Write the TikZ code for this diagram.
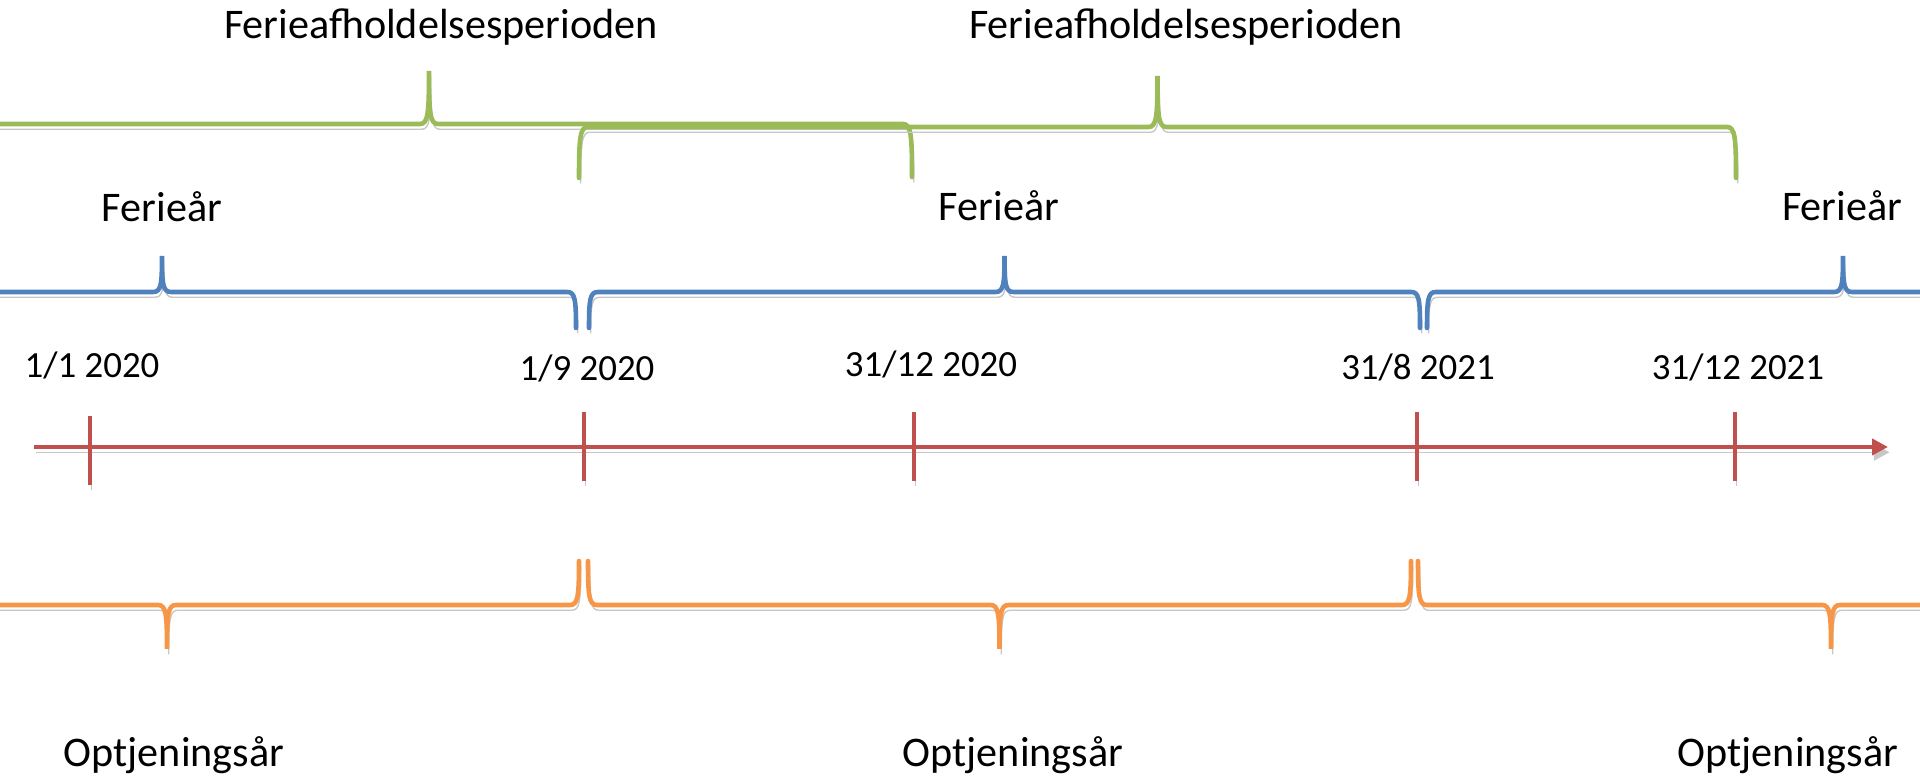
\documentclass[tikz,border=0pt]{standalone}
\usepackage{fontspec}
\setmainfont{Carlito}
\usetikzlibrary{arrows.meta}
\definecolor{periodgreen}{HTML}{9BBB59}
\definecolor{yearblue}{HTML}{4F81BD}
\definecolor{axisred}{HTML}{C0504D}
\definecolor{earnorange}{HTML}{F79646}
\tikzset{
    shadowed/.style={preaction={draw=black!22, transform canvas={shift={(0.5pt,-1.5pt)}}}},
    bracket/.style={line width=1.3pt, line cap=round, shadowed},
    axis/.style={draw=axisred, line width=1.3pt, shadowed},
    tick/.style={draw=axisred, line width=1pt, shadowed},
    label/.style={font=\fontsize{12}{14}\selectfont, inner sep=0pt},
    datelabel/.style={font=\fontsize{10.5}{12}\selectfont, inner sep=0pt}
}
% pointed brace: colour, left x, right x, line y, depth of the ends
\newcommand{\periodbrace}[5]{%
  \draw[bracket, #1] ({#2},{#4+(#5)}) .. controls ({#2},{#4+0.2*(#5)}) and ({#2+1},{#4}) .. ({#2+9},{#4})
    -- ({(#2+#3)/2-9},{#4}) .. controls ({(#2+#3)/2-1},{#4}) and ({(#2+#3)/2},{#4-0.2*(#5)}) .. ({(#2+#3)/2},{#4-(#5)})
    .. controls ({(#2+#3)/2},{#4-0.2*(#5)}) and ({(#2+#3)/2+1},{#4}) .. ({(#2+#3)/2+9},{#4})
    -- ({#3-9},{#4}) .. controls ({#3-1},{#4}) and ({#3},{#4+0.2*(#5)}) .. ({#3},{#4+(#5)});
}

\begin{document}
\begin{tikzpicture}[x=0.1mm, y=-0.1mm]
    \useasboundingbox (0,0) rectangle (1920,777);
    \clip (0,0) rectangle (1920,777);

    % ferieafholdelse
    \node[label] (PERIOD1) at (441,27) {Ferieafholdelsesperioden};
    \node[label] (PERIOD2) at (1186,27) {Ferieafholdelsesperioden};
    \periodbrace{periodgreen}{-54}{912}{124}{53}
    \periodbrace{periodgreen}{579}{1736}{127}{51}

    % ferieaar
    \node[label] (YEAR1) at (162,207) {Ferieår};
    \node[label] (YEAR2) at (999,206) {Ferieår};
    \node[label] (YEAR3) at (1842,206) {Ferieår};
    \periodbrace{yearblue}{-252}{576}{292}{36}
    \periodbrace{yearblue}{589}{1420}{292}{36}
    \periodbrace{yearblue}{1427}{2259}{292}{36}

    % datoer
    \node[datelabel] (JAN20L) at (92,365) {1/1 2020};
    \node[datelabel] (SEP20L) at (587,368) {1/9 2020};
    \node[datelabel] (DEC20L) at (931,364) {31/12 2020};
    \node[datelabel] (AUG21L) at (1418,367) {31/8 2021};
    \node[datelabel] (DEC21L) at (1738,367) {31/12 2021};

    \coordinate (START) at (34,447);
    \coordinate (END) at (1888,447);
    \coordinate (JAN20) at (90,447);
    \coordinate (SEP20) at (584,447);
    \coordinate (DEC20) at (914,447);
    \coordinate (AUG21) at (1417,447);
    \coordinate (DEC21) at (1735,447);
    \draw[axis, -{Triangle[length=4.5pt, width=4.5pt]}] (START) -- (END);
    \draw[tick] (JAN20) ++(0,-31) -- ++(0,69);
    \draw[tick] (SEP20) ++(0,-35) -- ++(0,69);
    \draw[tick] (DEC20) ++(0,-35) -- ++(0,69);
    \draw[tick] (AUG21) ++(0,-35) -- ++(0,69);
    \draw[tick] (DEC21) ++(0,-35) -- ++(0,69);

    % optjening
    \periodbrace{earnorange}{-245}{579}{605}{-44}
    \periodbrace{earnorange}{588}{1411}{605}{-44}
    \periodbrace{earnorange}{1418}{2244}{605}{-44}
    \node[label] (EARN1) at (174,755) {Optjeningsår};
    \node[label] (EARN2) at (1013,755) {Optjeningsår};
    \node[label] (EARN3) at (1788,755) {Optjeningsår};
\end{tikzpicture}
\end{document}
